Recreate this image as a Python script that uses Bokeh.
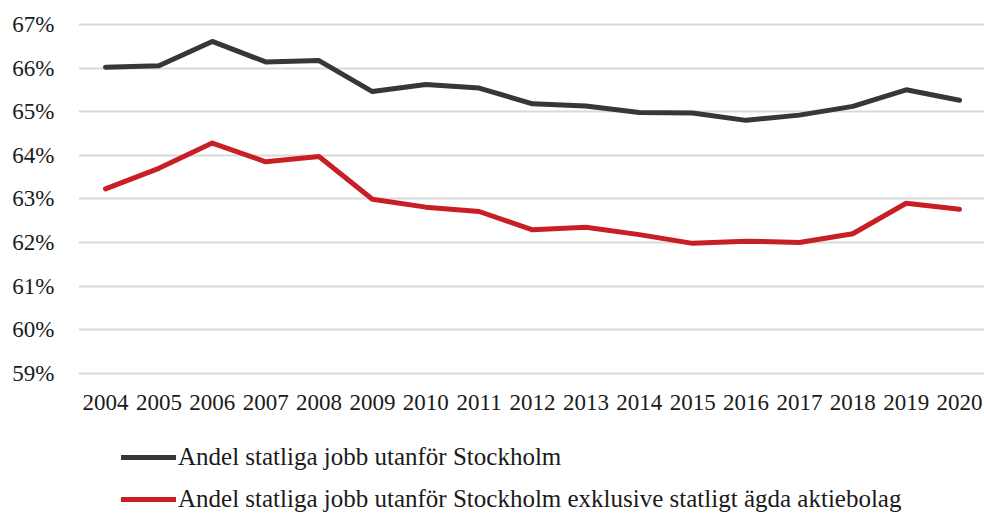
from bokeh.plotting import figure
from bokeh.models import FixedTicker, Legend, LegendItem
from bokeh.layouts import column
from bokeh.embed import file_html
from bokeh.resources import INLINE

years = list(range(2004, 2021))
total = [66.02, 66.05, 66.61, 66.14, 66.17, 65.46, 65.62, 65.54, 65.18, 65.13,
         64.98, 64.97, 64.80, 64.92, 65.12, 65.50, 65.26]
excl = [63.23, 63.70, 64.28, 63.85, 63.97, 62.99, 62.81, 62.71, 62.29, 62.35,
        62.18, 61.98, 62.03, 62.00, 62.20, 62.90, 62.76]
y_ticks = [59, 60, 61, 62, 63, 64, 65, 66, 67]
y_labels = [f"{t}%" for t in y_ticks]
series_names = ["Andel statliga jobb utanför Stockholm",
                "Andel statliga jobb utanför Stockholm exklusive statligt ägda aktiebolag"]
colors = ["#3b3536", "#c81e25"]

FONT = "Liberation Serif"

p = figure(width=984, height=423, x_range=(2003.494, 2020.468), y_range=(58.95, 67.25),
           output_backend="svg", toolbar_location=None,
           min_border_left=78, min_border_right=0, min_border_top=13, min_border_bottom=48)
p.outline_line_color = None
p.background_fill_color = "white"
p.border_fill_color = "white"

p.xgrid.grid_line_color = None
p.ygrid.grid_line_color = "#d9d9d9"
p.ygrid.grid_line_width = 2

p.xaxis.ticker = FixedTicker(ticks=years)
p.yaxis.ticker = FixedTicker(ticks=y_ticks)
p.yaxis.major_label_overrides = {t: l for t, l in zip(y_ticks, y_labels)}
for ax in (p.xaxis[0], p.yaxis[0]):
    ax.axis_line_color = None
    ax.major_tick_line_color = None
    ax.minor_tick_line_color = None
    ax.major_tick_out = 0
    ax.major_tick_in = 0
    ax.minor_tick_out = 0
    ax.minor_tick_in = 0
    ax.major_label_text_font = FONT
    ax.major_label_text_font_size = "23px"
    ax.major_label_text_color = "#1a1a1a"
p.xaxis.major_label_standoff = 19
p.yaxis.major_label_standoff = 24

p.line(years, total, line_color=colors[0], line_width=5, line_cap="round", line_join="round")
p.line(years, excl, line_color=colors[1], line_width=5, line_cap="round", line_join="round")

# Legend strip below the chart (its lines sit outside the visible range; only the legend shows)
lg = figure(width=984, height=90, x_range=(0, 1), y_range=(0, 1),
            x_axis_location=None, y_axis_location=None,
            output_backend="svg", toolbar_location=None,
            min_border_left=0, min_border_right=0, min_border_top=0, min_border_bottom=0)
lg.grid.visible = False
lg.outline_line_color = None
l1 = lg.line(years, total, line_color=colors[0], line_width=5, line_cap="round")
l2 = lg.line(years, excl, line_color=colors[1], line_width=5, line_cap="round")

legend = Legend(items=[LegendItem(label=series_names[0], renderers=[l1]),
                       LegendItem(label=series_names[1], renderers=[l2])],
                location=(43, 0), orientation="vertical",
                label_text_font=FONT, label_text_font_size="25px", label_text_color="#1a1a1a",
                glyph_width=55, glyph_height=20, label_standoff=2, spacing=14,
                padding=0, margin=0, border_line_color=None, background_fill_alpha=0)
lg.add_layout(legend, "center")

layout = column(p, lg, spacing=0)
open("out.html", "w").write(file_html(layout, INLINE))
